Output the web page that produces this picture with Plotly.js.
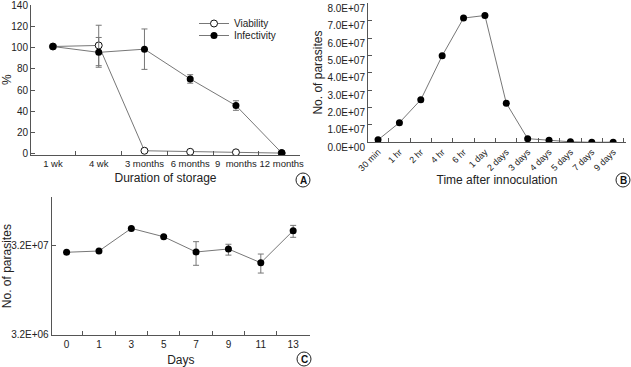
<!DOCTYPE html>
<html><head><meta charset="utf-8">
<script src="https://cdn.plot.ly/plotly-3.0.1.min.js"></script>
<style>html,body{margin:0;padding:0;background:#fff}#chart{width:631px;height:367px}</style>
</head><body><div id="chart"></div>
<script>
// Panel A
const storageCats = ["1 wk","4 wk","3 months","6 months","9&nbsp; months","12 months"];
const viability = [101, 102, 3, 2, 1.5, 0.8];
const viabilityErr = [0, 19, 0, 0, 0, 0];
const infectivity = [101, 95.5, 98.5, 70.5, 45.5, 1];
const infectivityErr = [0, 14, 19, 4, 4.5, 0];
const aYTicks = [0,20,40,60,80,100,120,140];

// Panel B
const timeCats = ["30 min","1 hr","2 hr","4 hr","6 hr","1 day","2 days","3 days","4 days","5 days","7 days","9 days"];
const parasitesB = [1.4e6, 1.13e7, 2.45e7, 4.98e7, 7.15e7, 7.3e7, 2.25e7, 2.1e6, 1.2e6, 3e5, 0, 1e5];
const bYTickVals = [0,1e7,2e7,3e7,4e7,5e7,6e7,7e7,8e7];
const bYTickText = ["0.0E+00","1.0E+07","2.0E+07","3.0E+07","4.0E+07","5.0E+07","6.0E+07","7.0E+07","8.0E+07"];

// Panel C
const dayCats = ["0","1","3","5","7","9","11","13"];
const parasitesC = [2.70e7, 2.79e7, 5.0e7, 4.03e7, 2.72e7, 2.94e7, 2.06e7, 4.71e7];
const cErrPlus = [0, 0, 0, 0, 0.83e7, 0.38e7, 0.52e7, 0.69e7];
const cErrMinus = [0, 0, 0, 0, 0.79e7, 0.43e7, 0.48e7, 0.74e7];
const cYTickVals = [3.2e6, 3.2e7];
const cYTickText = ["3.2E+06","3.2E+07"];

const W = 631, H = 367;
const px = v => v / W;
const py = v => 1 - v / H;
const FONT = "Liberation Sans, Arial, sans-serif";
const LINEC = "#777";
const TXT = "#222";
const AX = "#555";

const errStyle = {type:"data", color:"#777", thickness:1, width:3};

const traces = [
  {x: storageCats, y: viability, name:"Viability", type:"scatter", mode:"lines+markers",
   xaxis:"x", yaxis:"y", legend:"legend",
   line:{color:LINEC, width:1}, marker:{size:7, color:"#fff", line:{color:"#111", width:1}},
   error_y: Object.assign({array: viabilityErr, symmetric:true}, errStyle)},
  {x: storageCats, y: infectivity, name:"Infectivity", type:"scatter", mode:"lines+markers",
   xaxis:"x", yaxis:"y", legend:"legend2",
   line:{color:LINEC, width:1}, marker:{size:7, color:"#000"},
   error_y: Object.assign({array: infectivityErr, symmetric:true}, errStyle)},
  {x: timeCats, y: parasitesB, type:"scatter", mode:"lines+markers", showlegend:false,
   xaxis:"x2", yaxis:"y2",
   line:{color:LINEC, width:1}, marker:{size:7, color:"#000"}},
  {x: dayCats, y: parasitesC, type:"scatter", mode:"lines+markers", showlegend:false,
   xaxis:"x3", yaxis:"y3",
   line:{color:LINEC, width:1}, marker:{size:7, color:"#000"},
   error_y: Object.assign({array: cErrPlus, arrayminus: cErrMinus, symmetric:false}, errStyle)}
];

const axBase = {showline:true, linecolor:AX, linewidth:1, ticks:"inside", ticklen:4, tickcolor:AX,
  showgrid:false, zeroline:false, tickfont:{family:FONT, size:10, color:TXT}, fixedrange:true,
  ticklabeloverflow:"allow"};

const titleFont = {family:FONT, size:12, color:TXT};
const legBase = {xanchor:"left", yanchor:"top", bgcolor:"rgba(0,0,0,0)",
  font:{family:FONT, size:10, color:TXT}, itemwidth:30};

const layout = {
  width: W, height: H,
  margin:{l:0, r:0, t:0, b:0},
  paper_bgcolor:"#fff", plot_bgcolor:"rgba(0,0,0,0)",
  font:{family:FONT, color:TXT},
  showlegend:true,
  legend: Object.assign({x:px(194), y:py(9)}, legBase),
  legend2: Object.assign({x:px(194), y:py(21)}, legBase),
  xaxis: Object.assign({}, axBase, {type:"category", categoryorder:"array", categoryarray:storageCats,
    domain:[px(31), px(300)], range:[-0.48, 5.4], tickson:"boundaries", anchor:"y", tickangle:0,
    tickfont:{family:FONT, size:9.5, color:TXT},
    title:{text:"Duration of storage", font:titleFont, standoff:5}}),
  yaxis: Object.assign({}, axBase, {domain:[py(155), py(4.5)], range:[-1, 140.5], tickvals:aYTicks, anchor:"x",
    ticklabelshift:-1.5,
    title:{text:"%", font:titleFont, standoff:8}}),
  xaxis2: Object.assign({}, axBase, {type:"category", categoryorder:"array", categoryarray:timeCats,
    domain:[px(368), px(626)], range:[-0.47, 11.6], tickson:"boundaries", anchor:"y2", tickangle:-45,
    tickfont:{family:FONT, size:9, color:TXT},
    title:{text:"Time after innoculation", font:titleFont, standoff:2}}),
  yaxis2: Object.assign({}, axBase, {domain:[py(142.3), py(2.8)], range:[0, 8.03e7], tickvals:bYTickVals,
    ticktext:bYTickText, anchor:"x2", ticklabelshift:5,
    title:{text:"No. of parasites", font:titleFont, standoff:2}}),
  xaxis3: Object.assign({}, axBase, {type:"category", categoryorder:"array", categoryarray:dayCats,
    domain:[px(51.7), px(310)], range:[-0.46, 7.52], tickson:"boundaries", anchor:"y3", tickangle:0,
    title:{text:"Days", font:titleFont, standoff:7}}),
  yaxis3: Object.assign({}, axBase, {type:"log", domain:[py(335), py(197.3)], range:[6.505, 8.047],
    tickvals:cYTickVals, ticktext:cYTickText, anchor:"x3",
    title:{text:"No. of parasites", font:titleFont, standoff:6}}),
  shapes: [
    {type:"circle", xref:"paper", yref:"paper", x0:px(296), x1:px(310), y0:py(187), y1:py(173), line:{color:"#222", width:1}},
    {type:"circle", xref:"paper", yref:"paper", x0:px(616), x1:px(630), y0:py(187), y1:py(173), line:{color:"#222", width:1}},
    {type:"circle", xref:"paper", yref:"paper", x0:px(297), x1:px(311), y0:py(366), y1:py(352), line:{color:"#222", width:1}}
  ],
  annotations: [
    {text:"<b>A</b>", xref:"paper", yref:"paper", x:px(303), y:py(180), xanchor:"center", yanchor:"middle", showarrow:false, font:{family:FONT, size:10, color:"#111"}},
    {text:"<b>B</b>", xref:"paper", yref:"paper", x:px(623), y:py(180), xanchor:"center", yanchor:"middle", showarrow:false, font:{family:FONT, size:10, color:"#111"}},
    {text:"<b>C</b>", xref:"paper", yref:"paper", x:px(304), y:py(359), xanchor:"center", yanchor:"middle", showarrow:false, font:{family:FONT, size:10, color:"#111"}}
  ]
};

Plotly.newPlot("chart", traces, layout, {displayModeBar:false, staticPlot:true});
</script>
</body></html>
